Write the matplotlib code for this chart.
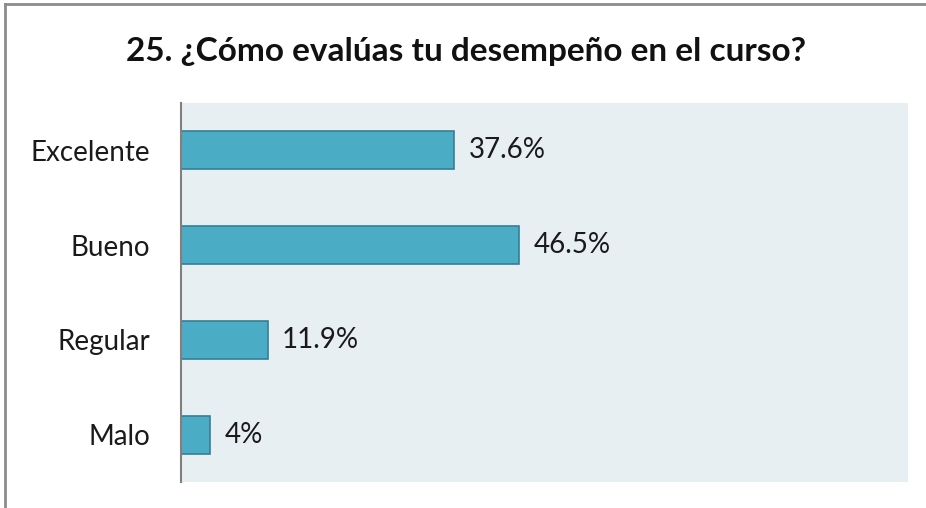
import matplotlib.pyplot as plt
from matplotlib.lines import Line2D

categories = ['Excelente', 'Bueno', 'Regular', 'Malo']
values = [37.6, 46.5, 11.9, 4.0]
value_labels = ['37.6%', '46.5%', '11.9%', '4%']

plt.rcParams['font.family'] = ['Lato', 'DejaVu Sans']

fig = plt.figure(figsize=(9.26, 5.08), dpi=100)
ax = fig.add_axes([181 / 926, 26 / 508, 727 / 926, 379 / 508])
ax.set_facecolor('#E8EFF3')

y = list(range(len(categories)))
ax.barh(y, values, height=0.4, color='#4BACC6', edgecolor='#357F93', linewidth=1.2)

for yi, v, lab in zip(y, values, value_labels):
    ax.text(v + 2.0, yi, lab, va='center', ha='left', fontsize=20, color='#1a1a1a')

ax.set_xlim(0, 100)
ax.set_ylim(3.5, -0.5)
ax.set_yticks(y)
ax.set_yticklabels(categories, fontsize=20, color='#1a1a1a')
ax.tick_params(axis='y', length=0, pad=22)
ax.set_xticks([])
for s in ['top', 'right', 'bottom']:
    ax.spines[s].set_visible(False)
ax.spines['left'].set_color('#808080')
ax.spines['left'].set_linewidth(1.5)

fig.text(466 / 926, 1 - 52 / 508, '25. ¿Cómo evalúas tu desempeño en el curso?',
         ha='center', va='center', fontsize=24, fontweight='bold', color='#111111')

# outer chart border (top and left edges visible)
fig.add_artist(Line2D([5 / 926, 5 / 926], [0, 1 - 4 / 508], transform=fig.transFigure,
                      color='#8c8c8c', linewidth=2))
fig.add_artist(Line2D([5 / 926, 1], [1 - 4 / 508, 1 - 4 / 508], transform=fig.transFigure,
                      color='#8c8c8c', linewidth=2))

fig.savefig('out.png', dpi=100)
